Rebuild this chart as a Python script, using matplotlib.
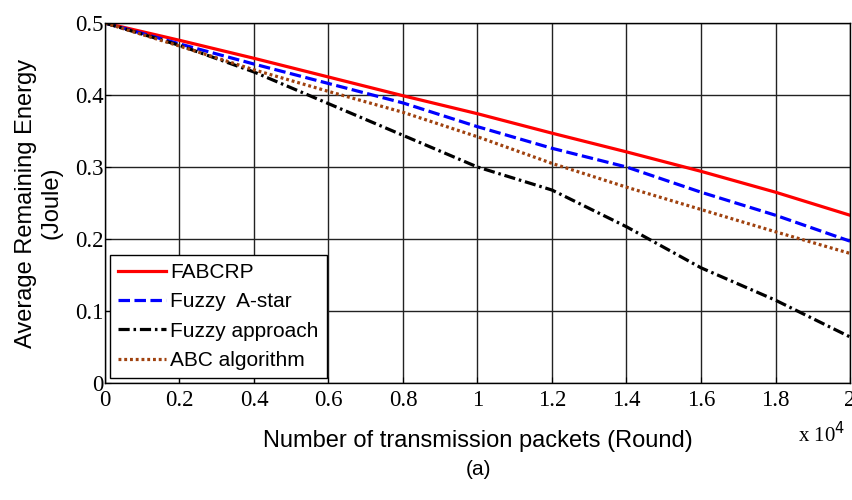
import matplotlib
matplotlib.use('Agg')
from matplotlib import pyplot as plt

rounds = [0, 0.2, 0.4, 0.6, 0.8, 1.0, 1.2, 1.4, 1.6, 1.8, 2.0]
fabcrp = [0.5, 0.476, 0.451, 0.425, 0.399, 0.374, 0.347, 0.321, 0.294, 0.265, 0.233]
fuzzy_astar = [0.5, 0.471, 0.443, 0.416, 0.389, 0.356, 0.326, 0.300, 0.265, 0.233, 0.197]
fuzzy_approach = [0.5, 0.469, 0.432, 0.388, 0.344, 0.300, 0.268, 0.217, 0.160, 0.115, 0.064]
abc_alg = [0.5, 0.468, 0.435, 0.405, 0.376, 0.342, 0.305, 0.272, 0.241, 0.210, 0.180]

xticks = [0, 0.2, 0.4, 0.6, 0.8, 1, 1.2, 1.4, 1.6, 1.8, 2]
xticklabels = ['0', '0.2', '0.4', '0.6', '0.8', '1', '1.2', '1.4', '1.6', '1.8', '2']
yticks = [0, 0.1, 0.2, 0.3, 0.4, 0.5]
yticklabels = ['0', '0.1', '0.2', '0.3', '0.4', '0.5']

fig = plt.figure(figsize=(8.53, 5.0), dpi=100)
ax = fig.add_axes([0.123, 0.234, 0.8735, 0.72])

ax.plot(rounds, fabcrp, color='#ff0000', lw=2.3, label='FABCRP')
ax.plot(rounds, fuzzy_astar, color='#0000ff', lw=2.3, ls=(0, (3.6, 1.4)), label='Fuzzy  A-star')
ax.plot(rounds, fuzzy_approach, color='#000000', lw=2.3, ls=(0, (3.5, 1.2, 0.8, 1.2)), label='Fuzzy approach')
ax.plot(rounds, abc_alg, color='#a0420f', lw=2.3, ls=(0, (0.9, 0.9)), label='ABC algorithm')

ax.set_xlim(0, 2)
ax.set_ylim(0, 0.5)
ax.set_xticks(xticks)
ax.set_xticklabels(xticklabels, family='Liberation Serif', fontsize=16.5)
ax.set_yticks(yticks)
ax.set_yticklabels(yticklabels, family='Liberation Serif', fontsize=16.5)
ax.tick_params(axis='x', direction='in', length=4, pad=5)
ax.tick_params(axis='y', direction='in', length=4, pad=1)
ax.grid(True, color='#222222', lw=1.0, ls='-')
for s in ax.spines.values():
    s.set_linewidth(1.0)

ax.set_ylabel('Average Remaining Energy\n(Joule)', family='Liberation Sans', fontsize=17, labelpad=9)
ax.set_xlabel('Number of transmission packets (Round)', family='Liberation Sans', fontsize=17, labelpad=14)

fig.text(0.935, 0.115, r'x 10$^4$', family='Liberation Serif', fontsize=15)
fig.text(0.561, 0.05, '(a)', family='Liberation Sans', fontsize=15, ha='center')

leg = ax.legend(loc='lower left', prop={'family': 'Liberation Sans', 'size': 15},
                fancybox=False, edgecolor='black', framealpha=1, handlelength=2.3,
                handletextpad=0.2, borderaxespad=0.22, labelspacing=0.5, borderpad=0.4)
leg.get_frame().set_linewidth(1.0)

fig.savefig('out.png', dpi=100)
